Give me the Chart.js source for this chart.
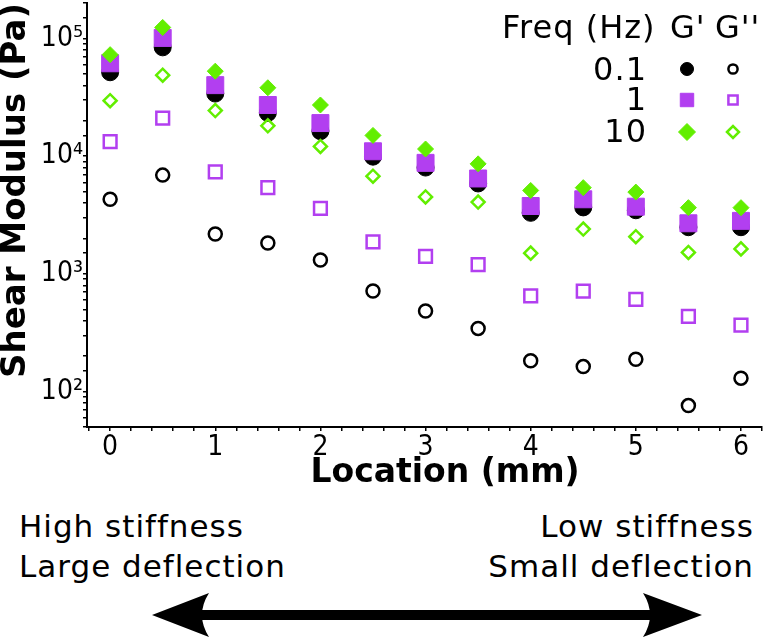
<!DOCTYPE html>
<html>
<head>
<meta charset="utf-8">
<script src="https://cdn.jsdelivr.net/npm/chart.js@4/dist/chart.umd.min.js"></script>
<style>
  html, body { margin: 0; padding: 0; background: #fff; }
  #wrap { position: relative; width: 765px; height: 639px; overflow: hidden; }
  #chart { position: absolute; left: 0; top: 0; }
  .note { position: absolute; font-family: "DejaVu Sans", sans-serif; font-size: 31px;
          line-height: 40px; letter-spacing: 1px; color: #000; white-space: nowrap; }
  #left { left: 19px; top: 506px; }
  #right { right: 11px; top: 506px; text-align: right; }
  #arrow { position: absolute; left: 0; top: 580px; }
</style>
</head>
<body>
<div id="wrap">
  <canvas id="chart" width="765" height="500"></canvas>
  <div class="note" id="left">High stiffness<br>Large deflection</div>
  <div class="note" id="right">Low stiffness<br>Small deflection</div>
  <svg id="arrow" width="765" height="59">
    <rect x="195" y="30" width="462" height="10" fill="#000"/>
    <path d="M152,35 L209,13 Q195,35 209,57 Z" fill="#000"/>
    <path d="M702,35 L643,13 Q657,35 643,57 Z" fill="#000"/>
  </svg>
</div>
<script>
// Location along the sample (mm)
const location_mm = [0, 0.5, 1, 1.5, 2, 2.5, 3, 3.5, 4, 4.5, 5, 5.5, 6];

// Storage modulus G' (Pa)
const gStore01 = [51600, 84000, 34000, 23300, 16300, 9900, 8000, 5860, 3300, 3670, 3470, 2490, 2490];
const gStore1  = [61500, 101000, 40100, 27200, 19100, 11000, 8770, 6460, 3770, 4300, 3720, 2690, 2820];
const gStore10 = [72800, 124000, 52700, 38100, 27200, 15000, 11500, 8600, 5110, 5400, 4950, 3650, 3650];

// Loss modulus G'' (Pa)
const gLoss01 = [4300, 6900, 2180, 1830, 1310, 714, 484, 344, 183, 163, 188, 76, 130];
const gLoss1  = [13300, 21000, 7360, 5400, 3600, 1870, 1410, 1200, 649, 714, 607, 436, 366];
const gLoss10 = [29600, 48700, 24400, 18100, 12100, 6760, 4500, 4070, 1500, 2400, 2070, 1520, 1630];

const freqLabels = ["0.1", "1", "10"];
const xTickLabels = ["0", "1", "2", "3", "4", "5", "6"];
const yTickLabels = {100: "10\u00b2", 1000: "10\u00b3", 10000: "10\u2074", 100000: "10\u2075"};

const BLACK = "#000000";
const PURPLE = "#b23ff0";
const GREEN = "#62ee00";

function pts(arr) {
  return location_mm.map((x, i) => ({ x: x, y: arr[i] }));
}

// marker styles per frequency
const styles = [
  { color: BLACK,  style: "circle",  filled: 8.5, open: 6.5 },
  { color: PURPLE, style: "rect",    filled: 12,  open: 9 },
  { color: GREEN,  style: "rectRot", filled: 8,   open: 6.5 }
];

function filledSet(label, arr, s, order) {
  return {
    label: label, data: pts(arr), order: order,
    pointStyle: s.style, pointRadius: s.filled,
    pointBackgroundColor: s.color, pointBorderColor: s.color, pointBorderWidth: 1
  };
}
function openSet(label, arr, s, order) {
  return {
    label: label, data: pts(arr), order: order,
    pointStyle: s.style, pointRadius: s.open,
    pointBackgroundColor: "rgba(0,0,0,0)", pointBorderColor: s.color, pointBorderWidth: 2.5
  };
}

// x ticks every 0.2 mm, labels at whole numbers
const xTicks = [];
for (let i = -1; i <= 31; i++) xTicks.push(Math.round(i * 2) / 10);

// legend in the top right, drawn as a small table
const freqLegend = {
  id: "freqLegend",
  afterDatasetsDraw(chart) {
    const ctx = chart.ctx;
    ctx.save();
    ctx.fillStyle = "#000";
    ctx.font = "32px 'DejaVu Sans'";
    ctx.textBaseline = "alphabetic";
    if ("letterSpacing" in ctx) ctx.letterSpacing = "1px";
    ctx.textAlign = "left";
    ctx.fillText("Freq (Hz)", 502, 38);
    ctx.fillText("G'", 670, 38);
    ctx.fillText("G''", 715, 38);
    ctx.textAlign = "right";
    const rowY = [80, 110, 142];
    const markY = [69, 100, 132];
    freqLabels.forEach((f, i) => ctx.fillText(f, 647, rowY[i]));
    if ("letterSpacing" in ctx) ctx.letterSpacing = "0px";
    const legR = [[6.5, 4.6], [9.5, 6.5], [8.5, 6]];
    styles.forEach((s, i) => {
      ctx.fillStyle = s.color;
      ctx.strokeStyle = s.color;
      ctx.lineWidth = 1;
      Chart.helpers.drawPoint(ctx, { pointStyle: s.style, radius: legR[i][0], rotation: 0, borderWidth: 1 }, 687, markY[i]);
      ctx.fillStyle = "rgba(0,0,0,0)";
      ctx.lineWidth = 2.5;
      Chart.helpers.drawPoint(ctx, { pointStyle: s.style, radius: legR[i][1], rotation: 0, borderWidth: 2.5 }, 733, markY[i]);
    });
    ctx.restore();
  }
};

new Chart(document.getElementById("chart"), {
  type: "scatter",
  data: {
    datasets: [
      filledSet("G' 0.1 Hz", gStore01, styles[0], 5),
      filledSet("G' 1 Hz", gStore1, styles[1], 4),
      filledSet("G' 10 Hz", gStore10, styles[2], 3),
      openSet("G'' 0.1 Hz", gLoss01, styles[0], 2),
      openSet("G'' 1 Hz", gLoss1, styles[1], 1),
      openSet("G'' 10 Hz", gLoss10, styles[2], 0)
    ]
  },
  options: {
    responsive: false,
    animation: false,
    events: [],
    layout: { autoPadding: false, padding: { top: 3, right: 3, left: 0, bottom: 0 } },
    plugins: { legend: { display: false }, tooltip: { enabled: false } },
    scales: {
      x: {
        type: "linear",
        min: -0.22, max: 6.2,
        afterBuildTicks: s => { s.ticks = xTicks.map(v => ({ value: v })); },
        afterFit: s => { s.height = 73; s.paddingLeft = 0; s.paddingRight = 0; },
        border: { display: true, color: "#000", width: 2 },
        grid: { drawOnChartArea: false, drawTicks: true, tickLength: 4, color: "#000", lineWidth: 1.5 },
        ticks: {
          autoSkip: false, maxRotation: 0, padding: 0, color: "#000",
          font: { family: "'DejaVu Sans Condensed', 'DejaVu Sans'", size: 28 },
          callback: v => Math.abs(v - Math.round(v)) < 1e-6 ? xTickLabels[Math.round(v)] || "" : ""
        },
        title: {
          display: true, text: "   \u2009Location (mm)", color: "#000",
          font: { family: "'DejaVu Sans'", size: 33, weight: "bold" },
          padding: { top: 0, bottom: 7 }
        }
      },
      y: {
        type: "logarithmic",
        min: 50, max: 200000,
        afterFit: s => { s.width = 87; s.paddingTop = 0; s.paddingBottom = 0; },
        border: { display: true, color: "#000", width: 2 },
        grid: { drawOnChartArea: false, drawTicks: true, tickLength: 4, color: "#000", lineWidth: 1.5 },
        ticks: {
          autoSkip: false, padding: 0, color: "#000",
          font: { family: "'DejaVu Sans Condensed', 'DejaVu Sans'", size: 28 },
          callback: v => yTickLabels[Math.round(v)] || ""
        },
        title: {
          display: true, align: "end", text: "Shear Modulus (Pa)", color: "#000",
          font: { family: "'DejaVu Sans'", size: 34, weight: "bold" },
          padding: { top: -4, bottom: 0 }
        }
      }
    }
  },
  plugins: [freqLegend]
});
</script>
</body>
</html>
